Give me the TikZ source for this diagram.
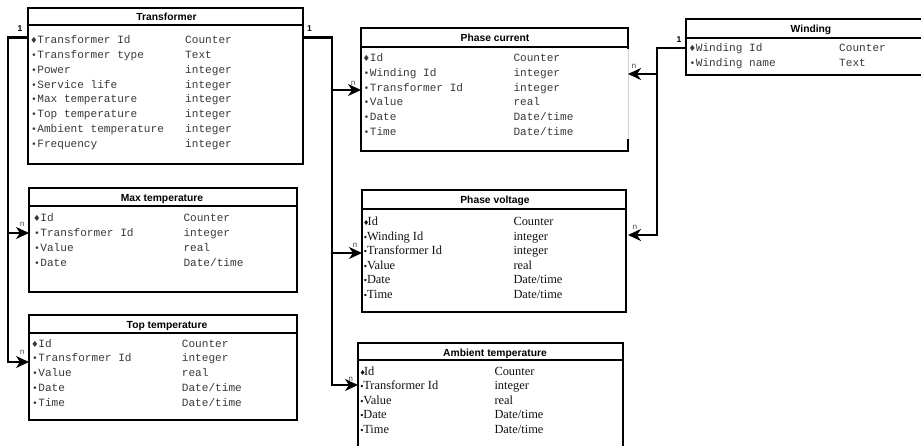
\documentclass[tikz,border=0pt]{standalone}
\usepackage{fontspec}
\setmainfont{Liberation Serif}
\newfontfamily\monof{Liberation Mono}
\newfontfamily\headf{Liberation Sans}
\newfontfamily\symf{DejaVu Sans}
\usetikzlibrary{arrows.meta}
\definecolor{mtxt}{HTML}{383838}
\definecolor{stxt}{HTML}{111111}
\definecolor{nlab}{HTML}{3E4466}
\newcommand\dmm{\makebox[6.67pt][c]{\symf\fontsize{8.5}{8}\selectfont ♦}}
\newcommand\bum{\makebox[6.67pt][c]{\symf\fontsize{9}{8}\selectfont •}}
\newcommand\dms{\makebox[4.5pt][l]{\symf\fontsize{7}{7}\selectfont ♦}}
\newcommand\bus{\makebox[3.8pt][l]{\symf\fontsize{8}{7}\selectfont •}}
\newcommand\dttm{Date/time}
% #1 prefix, #2 name x, #3 type x, #4 first y, #5 step, #6 style, #7 list
\newcommand\tblrows[7]{%
  \foreach \nm/\ty [count=\i from 0] in {#7} {
    \node[#6] (#1-n\i) at (#2,{#4+#5*\i}) {\nm};
    \node[#6] (#1-t\i) at (#3,{#4+#5*\i}) {\ty};
  }}
% #1 name, #2 x1, #3 y1, #4 x2, #5 y2, #6 header line y, #7 title, #8 title x
\newcommand\tblbox[8]{%
  \node[tbl, minimum width={#4-#2}, minimum height={#5-#3}] (#1) at ({(#2+#4)/2},{(#3+#5)/2}) {};
  \draw[bd] (#2,#6) -- (#4,#6);
  \node[hd] (#1-h) at (#8,{(#3+#6)/2+0.8}) {#7};}
\begin{document}
\begin{tikzpicture}[x=1pt,y=-1pt,
  tbl/.style={draw=black, line width=2.1pt, inner sep=0pt, fill=none},
  bd/.style={draw=black, line width=2.1pt},
  hd/.style={inner sep=0pt, text height=7.4pt, text depth=0pt, font=\headf\bfseries\fontsize{10.3}{12}\selectfont},
  mrow/.style={anchor=west, inner sep=0pt, text height=7.6pt, text depth=0pt, text=mtxt, font=\monof\fontsize{11.1}{12}\selectfont},
  srow/.style={anchor=west, inner sep=0pt, text height=7.6pt, text depth=0pt, text=stxt, font=\fontsize{12.4}{14}\selectfont},
  conn/.style={draw=black, line width=2.1pt},
  arr/.style={-{Stealth[length=13pt,width=12pt,inset=4pt]}},
  onelab/.style={inner sep=0pt, font=\headf\bfseries\fontsize{8.5}{9}\selectfont},
  nlab/.style={inner sep=0pt, text=nlab, font=\monof\fontsize{8}{9}\selectfont}]
\useasboundingbox (0,0) rectangle (921,446);
\clip (0,0) rectangle (921,446);

% ---------- tables ----------
\tblbox{tr}{28}{8}{303}{164}{25}{Transformer}{166.5}
\tblrows{tr}{30.5}{185}{40}{14.75}{mrow}{\dmm Transformer Id/Counter, \bum Transformer type/Text, \bum Power/integer, \bum Service life/integer, \bum Max temperature/integer, \bum Top temperature/integer, \bum Ambient temperature/integer, \bum Frequency/integer}

\tblbox{mt}{29}{188}{297}{292}{206}{Max temperature}{162}
\tblrows{mt}{33.5}{183.3}{217.7}{14.85}{mrow}{\dmm Id/Counter, \bum Transformer Id/integer, \bum Value/real, \bum Date/\dttm}

\tblbox{tt}{29}{315}{297}{420}{333}{Top temperature}{167}
\tblrows{tt}{31.5}{181.7}{343.3}{14.8}{mrow}{\dmm Id/Counter, \bum Transformer Id/integer, \bum Value/real, \bum Date/\dttm, \bum Time/\dttm}

\tblbox{pc}{361}{28}{628}{151}{47}{Phase current}{495}
\draw[white, line width=2.4pt] (628,49) -- (628,139);
\draw[gray!35, line width=0.8pt] (628,49) -- (628,139);
\tblrows{pc}{363}{513.3}{57.7}{14.8}{mrow}{\dmm Id/Counter, \bum Winding Id/integer, \bum Transformer Id/integer, \bum Value/real, \bum Date/\dttm, \bum Time/\dttm}

\tblbox{pv}{362}{190}{626}{312}{209}{Phase voltage}{495}
\tblrows{pv}{363}{513.3}{221.7}{14.55}{srow}{\dms Id/Counter, \bus Winding Id/integer, \bus Transformer Id/integer, \bus Value/real, \bus Date/\dttm, \bus Time/\dttm}

\tblbox{at}{358}{343}{623}{470}{360}{Ambient temperature}{495}
\tblrows{at}{359.3}{494.3}{371.7}{14.4}{srow}{\dms Id/Counter, \bus Transformer Id/integer, \bus Value/real, \bus Date/\dttm, \bus Time/\dttm}

\tblbox{wd}{686}{19}{940}{75}{38}{Winding}{811}
\tblrows{wd}{689}{839}{48}{14.5}{mrow}{\dmm Winding Id/Counter, \bum Winding name/Text}

% ---------- connector end points ----------
\coordinate (tL) at (28,37.5);
\coordinate (jL) at (8.3,37.5);
\coordinate (mtI) at (29,233);
\coordinate (ttI) at (29,362);
\coordinate (tR) at (303,37.5);
\coordinate (jR) at (332,37.5);
\coordinate (pcI) at (361,90);
\coordinate (pvI) at (362,253);
\coordinate (atI) at (358,385);
\coordinate (wL) at (686,48);
\coordinate (jW) at (657,48);
\coordinate (pcO) at (628,74);
\coordinate (pvO) at (628,235);

% ---------- connectors ----------
\draw[conn,arr] (tL) -- (jL) |- (ttI);
\draw[conn,arr] (jL |- mtI) -- (mtI);
\draw[conn,arr] (tR) -- (jR) |- (atI);
\draw[conn,arr] (jR |- pcI) -- (pcI);
\draw[conn,arr] (jR |- pvI) -- (pvI);
\draw[conn,arr] (wL) -- (jW) |- (pvO);
\draw[conn,arr] (jW |- pcO) -- (pcO);

% ---------- cardinality labels ----------
\node[onelab] (l1a) at (20,29) {1};
\node[onelab] (l1b) at (309.5,29) {1};
\node[onelab] (l1c) at (679,40) {1};
\node[nlab] (nmt) at (22.3,224) {n};
\node[nlab] (ntt) at (22.3,352) {n};
\node[nlab] (npc) at (353.3,83) {n};
\node[nlab] (npv) at (355,245) {n};
\node[nlab] (nat) at (350.7,379) {n};
\node[nlab] (nwa) at (634,66) {n};
\node[nlab] (nwb) at (635,227) {n};
\end{tikzpicture}
\end{document}
